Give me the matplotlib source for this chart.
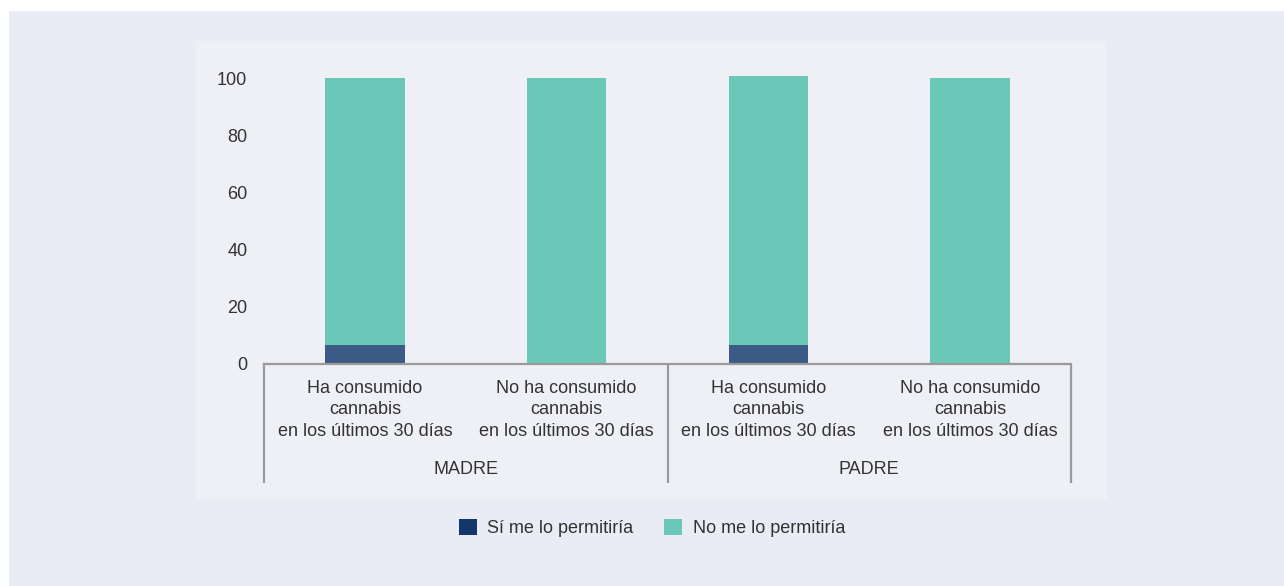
import matplotlib.pyplot as plt
from matplotlib.patches import Rectangle, Patch

plt.rcParams['font.family'] = ['Liberation Sans', 'DejaVu Sans']

# data
categorias = ['Ha consumido\ncannabis\nen los últimos 30 días',
              'No ha consumido\ncannabis\nen los últimos 30 días',
              'Ha consumido\ncannabis\nen los últimos 30 días',
              'No ha consumido\ncannabis\nen los últimos 30 días']
grupos = ['MADRE', 'PADRE']
si_permitiria = [6.6, 0.0, 6.7, 0.0]
no_permitiria = [93.4, 100.0, 93.9, 100.0]
series = ['Sí me lo permitiría', 'No me lo permitiría']

col_si_bar = '#3b5a85'
col_si_leg = '#13366b'
col_no = '#6bc7b8'
txt = '#333333'
fs = 13

W, H = 1284, 586
fig = plt.figure(figsize=(W / 100, H / 100), dpi=100, facecolor='white')

# background panels
fig.patches.append(Rectangle((9 / W, 0), 1 - 9 / W, 1 - 11 / H, transform=fig.transFigure,
                             facecolor='#e9ecf4', edgecolor='none', zorder=-2))
fig.patches.append(Rectangle((196 / W, (H - 499) / H), (1107 - 196) / W, (499 - 41) / H,
                             transform=fig.transFigure, facecolor='#eef0f5',
                             edgecolor='none', zorder=-1))

ymax = 102
px_per = 2.86
ax_bottom = (H - 364) / H
ax_height = ymax * px_per / H
ax = fig.add_axes([264 / W, ax_bottom, (1071 - 264) / W, ax_height])
ax.set_facecolor('none')

x = list(range(len(categorias)))
ax.bar(x, si_permitiria, width=0.395, color=col_si_bar, zorder=2)
ax.bar(x, no_permitiria, width=0.395, bottom=si_permitiria, color=col_no, zorder=2)

ax.set_xlim(-0.5, 3.5)
ax.set_ylim(0, ymax)
ax.set_yticks([0, 20, 40, 60, 80, 100])
ax.tick_params(axis='y', length=0, pad=12, labelsize=fs, labelcolor=txt)
ax.set_xticks([])
for s in ['top', 'right', 'left']:
    ax.spines[s].set_visible(False)
ax.spines['bottom'].set_color('#9a9a9a')
ax.spines['bottom'].set_linewidth(1.6)

axh = ymax * px_per
tr = ax.get_xaxis_transform()
for xs in [-0.5, 1.5, 3.5]:
    ax.plot([xs, xs], [0, -(483 - 364) / axh], transform=tr, color='#9a9a9a',
            lw=1.6, clip_on=False, solid_capstyle='butt')

for xi, lab in zip(x, categorias):
    ax.text(xi, -(410 - 364) / axh, lab, transform=tr, ha='center', va='center',
            fontsize=fs, color=txt, linespacing=1.33)

for gi, g in enumerate(grupos):
    ax.text(0.5 + 2 * gi, -(470 - 364) / axh, g, transform=tr, ha='center', va='center',
            fontsize=fs, color=txt)

handles = [Patch(facecolor=col_si_leg, edgecolor='none'),
           Patch(facecolor=col_no, edgecolor='none')]
leg = fig.legend(handles, series, loc='center', bbox_to_anchor=(652 / W, (H - 528) / H),
                 ncol=2, frameon=False, fontsize=fs, handlelength=1.0, handleheight=1.0,
                 handletextpad=0.6, columnspacing=1.7)
for t in leg.get_texts():
    t.set_color(txt)

fig.savefig('out.png', dpi=100, facecolor='white')
